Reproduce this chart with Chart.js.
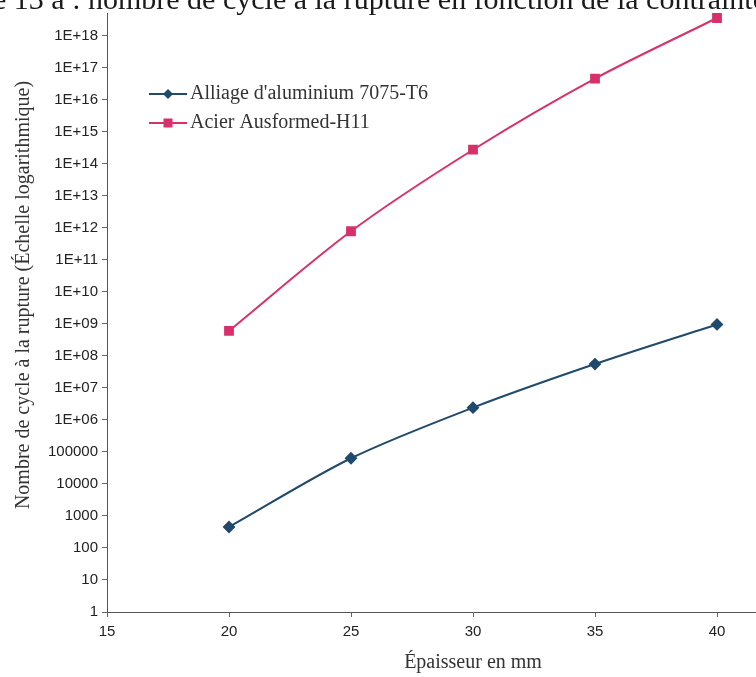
<!DOCTYPE html>
<html lang="fr">
<head>
<meta charset="utf-8">
<title>Nombre de cycle à la rupture</title>
<script src="https://cdn.jsdelivr.net/npm/chart.js@4"></script>
<style>
  html, body { margin: 0; padding: 0; background: #fff; overflow: hidden; width: 756px; height: 677px; }
  #titre {
    position: absolute; left: -72px; top: -16px; white-space: nowrap;
    font-family: "Liberation Serif", serif; font-size: 30px; line-height: 30px; color: #1a1a1a;
  }
  #cycleChart { position: absolute; left: 0; top: 0; }
</style>
</head>
<body>
<canvas id="cycleChart" width="860" height="677"></canvas>
<div id="titre">Figure 13 a : nombre de cycle à la rupture en fonction de la contrainte</div>
<script>
// Données
const epaisseurs = [20, 25, 30, 35, 40];
const aluminium = [450, 6.3e4, 2.4e6, 5.5e7, 9.5e8];
const acier = [6e8, 7.7e11, 2.7e14, 4.5e16, 3.5e18];
const xTicks = [15, 20, 25, 30, 35, 40, 45];
const yTicks = [1, 10, 100, 1000, 10000, 100000, 1e6, 1e7, 1e8, 1e9, 1e10, 1e11, 1e12,
  1e13, 1e14, 1e15, 1e16, 1e17, 1e18];

const bleu = "#1f4a6b";
const rose = "#d8306b";

function toPoints(values) {
  return epaisseurs.map((x, i) => ({ x: x, y: values[i] }));
}

// Format Excel : 1E+06 ...
function formatTick(v) {
  if (v < 1e6) return String(v);
  const e = Math.round(Math.log10(v));
  return "1E+" + (e < 10 ? "0" + e : e);
}

// Légende dans la zone du graphique + titre de l'axe vertical
const legendeInterne = {
  id: "legendeInterne",
  afterDraw(chart) {
    const ctx = chart.ctx;
    const rows = [94, 123];
    ctx.save();
    chart.data.datasets.forEach((ds, i) => {
      const y = rows[i];
      ctx.strokeStyle = ds.borderColor;
      ctx.lineWidth = 2;
      ctx.beginPath();
      ctx.moveTo(149, y);
      ctx.lineTo(187, y);
      ctx.stroke();
      ctx.fillStyle = ds.backgroundColor;
      if (ds.pointStyle === "rectRot") {
        ctx.beginPath();
        ctx.moveTo(168, y - 5);
        ctx.lineTo(173, y);
        ctx.lineTo(168, y + 5);
        ctx.lineTo(163, y);
        ctx.closePath();
        ctx.fill();
      } else {
        ctx.fillRect(163.5, y - 4.5, 9, 9);
      }
      ctx.fillStyle = "#333";
      ctx.font = '20px "Liberation Serif"';
      ctx.textBaseline = "middle";
      ctx.fillText(ds.label, 190, y);
    });

    ctx.translate(24, 295);
    ctx.rotate(-Math.PI / 2);
    ctx.fillStyle = "#333";
    ctx.font = '20px "Liberation Serif"';
    ctx.textAlign = "center";
    ctx.textBaseline = "middle";
    ctx.fillText("Nombre de cycle à la rupture (Échelle logarithmique)", 0, 0);
    ctx.restore();
  }
};

function createChart() {
  const ctx = document.getElementById("cycleChart").getContext("2d");

  window.cycleChart = new Chart(ctx, {
    type: "line",
    data: {
      datasets: [
        {
          label: "Alliage d'aluminium 7075-T6",
          data: toPoints(aluminium),
          borderColor: bleu,
          backgroundColor: bleu,
          borderWidth: 2,
          pointStyle: "rectRot",
          pointRadius: 5,
          tension: 0.3
        },
        {
          label: "Acier Ausformed-H11",
          data: toPoints(acier),
          borderColor: rose,
          backgroundColor: rose,
          borderWidth: 2,
          pointStyle: "rect",
          pointRadius: 5.5,
          tension: 0.3
        }
      ]
    },
    options: {
      responsive: false,
      animation: false,
      layout: { padding: { top: 8, right: 21, left: 0, bottom: 0 } },
      plugins: {
        legend: { display: false },
        tooltip: { enabled: false }
      },
      scales: {
        x: {
          type: "linear",
          min: 15,
          max: 45,
          afterBuildTicks: (scale) => { scale.ticks = xTicks.map(v => ({ value: v })); },
          afterFit: (scale) => { scale.height = 65; },
          grid: { drawOnChartArea: false, tickLength: 5, color: "#666" },
          border: { color: "#555", width: 1 },
          ticks: {
            color: "#222",
            font: { family: "Liberation Sans", size: 15 },
            padding: 6,
            maxRotation: 0
          },
          title: {
            display: true,
            text: "Épaisseur en mm",
            color: "#333",
            font: { family: "Liberation Serif", size: 20 },
            padding: { top: 0, bottom: 2 }
          }
        },
        y: {
          type: "logarithmic",
          min: 1,
          max: Math.pow(10, 18.7),
          afterBuildTicks: (scale) => { scale.ticks = yTicks.map(v => ({ value: v })); },
          afterFit: (scale) => { scale.width = 107; },
          grid: { drawOnChartArea: false, tickLength: 5, color: "#666" },
          border: { color: "#555", width: 1 },
          ticks: {
            color: "#222",
            font: { family: "Liberation Sans", size: 15 },
            padding: 4,
            callback: (v) => formatTick(v)
          },
          title: { display: false }
        }
      }
    },
    plugins: [legendeInterne]
  });
}

window.addEventListener("DOMContentLoaded", createChart);
</script>
</body>
</html>
